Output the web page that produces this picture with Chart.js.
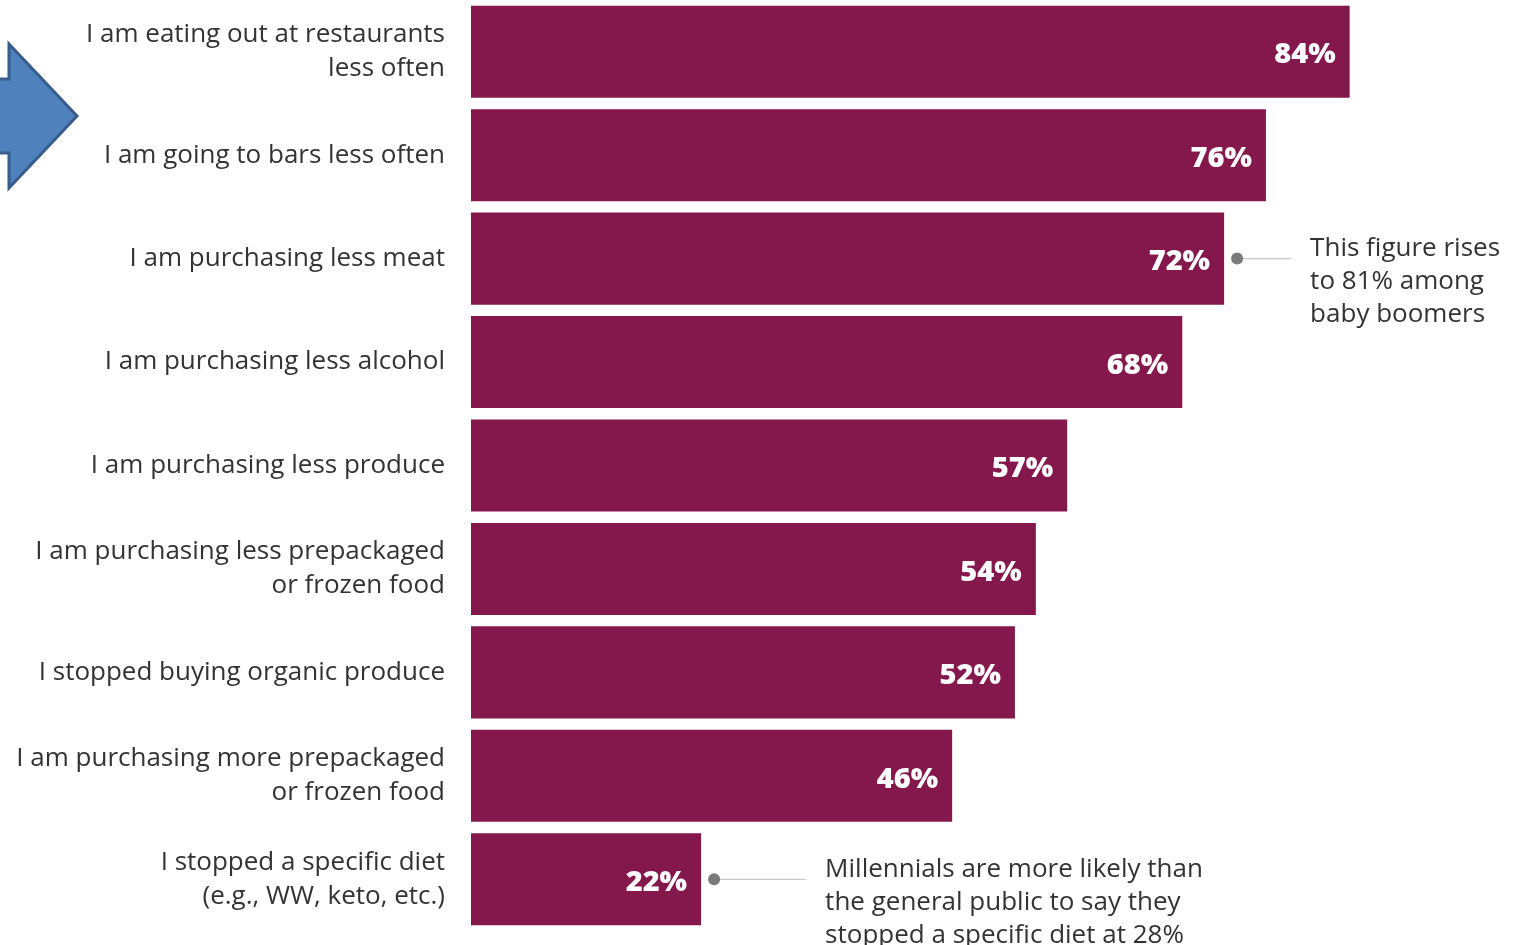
<!DOCTYPE html>
<html>
<head>
<meta charset="utf-8">
<script src="https://cdn.jsdelivr.net/npm/chart.js@4"></script>
<style>
  html, body { margin: 0; padding: 0; background: #ffffff; }
  #wrap { position: relative; width: 1534px; height: 945px; }
</style>
</head>
<body>
<div id="wrap"><canvas id="chart"></canvas></div>
<script>
// Survey answers, one bar per statement
const categories = [
  ["I am eating out at restaurants", "less often"],
  "I am going to bars less often",
  "I am purchasing less meat",
  "I am purchasing less alcohol",
  "I am purchasing less produce",
  ["I am purchasing less prepackaged", "or frozen food"],
  "I stopped buying organic produce",
  ["I am purchasing more prepackaged", "or frozen food"],
  ["I stopped a specific diet", "(e.g., WW, keto, etc.)"]
];
const shares = [84, 76, 72, 68, 57, 54, 52, 46, 22];

// Call-out notes attached to particular bars
const noteBars = [2, 8];
const noteTexts = [
  ["This figure rises", "to 81% among", "baby boomers"],
  ["Millennials are more likely than", "the general public to say they", "stopped a specific diet at 28%"]
];
const noteLineLengths = [54, 92];

const FONT = "'Open Sans', Lato, sans-serif";
const BAR = "#84174B";
const TEXT = "#333333";

// Percent labels inside the bar ends
const valueLabels = {
  id: 'valueLabels',
  afterDatasetsDraw(chart) {
    const ctx = chart.ctx;
    const meta = chart.getDatasetMeta(0);
    ctx.save();
    ctx.fillStyle = '#ffffff';
    ctx.font = "800 29px " + FONT;
    ctx.textAlign = 'right';
    ctx.textBaseline = 'middle';
    meta.data.forEach((bar, i) => {
      ctx.fillText(shares[i] + '%', bar.x - 14, bar.y + 3.5);
    });
    ctx.restore();
  }
};

// Dot-and-leader call-outs beside selected bars
const callouts = {
  id: 'callouts',
  afterDatasetsDraw(chart) {
    const ctx = chart.ctx;
    const meta = chart.getDatasetMeta(0);
    ctx.save();
    noteBars.forEach((idx, n) => {
      const bar = meta.data[idx];
      const dx = bar.x + 13;
      const dy = bar.y;
      const lineEnd = dx + noteLineLengths[n];
      ctx.strokeStyle = '#c8c8c8';
      ctx.lineWidth = 1.2;
      ctx.beginPath();
      ctx.moveTo(dx, dy);
      ctx.lineTo(lineEnd, dy);
      ctx.stroke();
      ctx.fillStyle = '#7a7a7a';
      ctx.beginPath();
      ctx.arc(dx, dy, 6, 0, Math.PI * 2);
      ctx.fill();
      ctx.fillStyle = TEXT;
      ctx.font = "26px " + FONT;
      ctx.textAlign = 'left';
      ctx.textBaseline = 'middle';
      noteTexts[n].forEach((line, k) => {
        ctx.fillText(line, lineEnd + 19, dy - 10 + k * 33);
      });
    });
    ctx.restore();
  }
};

// Blue block arrow at the left edge, pointing at the top rows
const blockArrow = {
  id: 'blockArrow',
  afterDraw(chart) {
    const ctx = chart.ctx;
    ctx.save();
    ctx.beginPath();
    ctx.moveTo(-20, 79);
    ctx.lineTo(9, 79);
    ctx.lineTo(9, 44);
    ctx.lineTo(77, 116);
    ctx.lineTo(9, 188);
    ctx.lineTo(9, 153);
    ctx.lineTo(-20, 153);
    ctx.closePath();
    ctx.fillStyle = '#4F81BD';
    ctx.fill();
    ctx.lineWidth = 3;
    ctx.strokeStyle = '#385D8A';
    ctx.lineJoin = 'miter';
    ctx.stroke();
    ctx.restore();
  }
};

new Chart(document.getElementById('chart'), {
  type: 'bar',
  data: {
    labels: categories,
    datasets: [{
      data: shares,
      backgroundColor: BAR,
      borderWidth: 0,
      categoryPercentage: 1,
      barPercentage: 0.89
    }]
  },
  options: {
    indexAxis: 'y',
    responsive: true,
    maintainAspectRatio: false,
    animation: false,
    layout: { padding: { top: 0, right: 17, bottom: 14, left: 0 } },
    plugins: {
      legend: { display: false },
      tooltip: { enabled: false }
    },
    scales: {
      x: {
        display: false,
        min: 0,
        max: 100
      },
      y: {
        grid: { display: false, drawTicks: false },
        border: { display: false },
        ticks: {
          color: TEXT,
          padding: 26,
          font: { family: FONT, size: 26, lineHeight: 1.3 }
        },
        afterFit(scale) {
          scale.width = 471;
          scale.paddingTop = 0;
          scale.paddingBottom = 0;
        }
      }
    }
  },
  plugins: [valueLabels, callouts, blockArrow]
});
</script>
</body>
</html>
